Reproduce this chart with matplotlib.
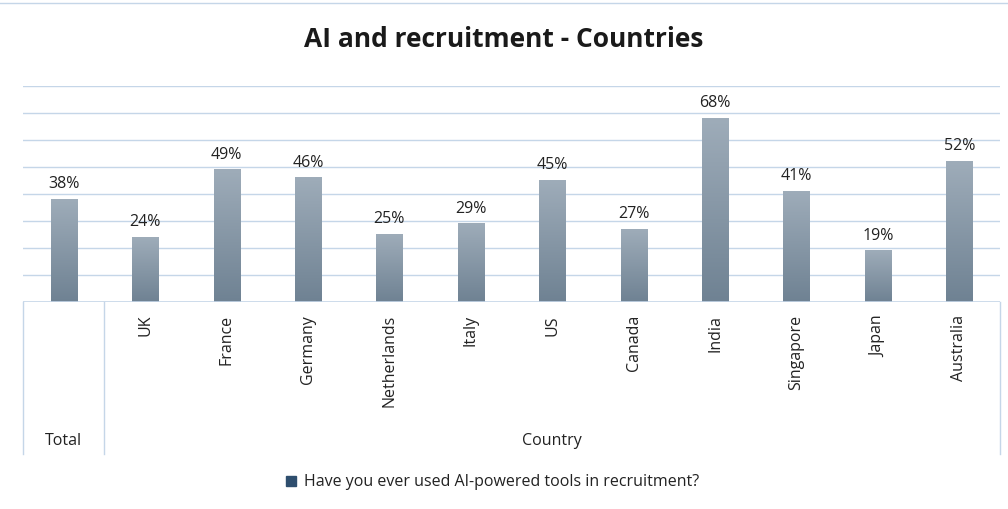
import numpy as np
import matplotlib.pyplot as plt
from matplotlib.lines import Line2D

plt.rcParams['font.family'] = ['Open Sans', 'DejaVu Sans']

categories = ["Total", "UK", "France", "Germany", "Netherlands", "Italy", "US",
              "Canada", "India", "Singapore", "Japan", "Australia"]
values = [38, 24, 49, 46, 25, 29, 45, 27, 68, 41, 19, 52]
series_name = "Have you ever used AI-powered tools in recruitment?"

W, H = 1008, 510
fig = plt.figure(figsize=(W / 100, H / 100), dpi=100)
x0, x1, ytop, ybot = 23, 1000, 87, 303
ax = fig.add_axes([x0 / W, 1 - ybot / H, (x1 - x0) / W, (ybot - ytop) / H])

n = len(categories)
ax.set_xlim(-0.5, n - 0.5)
ax.set_ylim(0, 80)
for y in range(10, 81, 10):
    ax.axhline(y, color='#c5d6e8', lw=1, zorder=0)

grad = np.linspace(0, 1, 100).reshape(-1, 1)
from matplotlib.colors import LinearSegmentedColormap
cmap = LinearSegmentedColormap.from_list('g', ['#6f8293', '#9eacb9'])
bw = 0.32
for i, v in enumerate(values):
    ax.imshow(grad, cmap=cmap, origin='lower', aspect='auto',
              extent=[i - bw / 2, i + bw / 2, 0, v], zorder=2)
    ax.text(i, v + 3, f"{v}%", ha='center', va='bottom', fontsize=11.5, color='#222222')
ax.set_xlim(-0.5, n - 0.5)
ax.set_ylim(0, 80)
for s in ax.spines.values():
    s.set_visible(False)
ax.axhline(0, color='#c5d6e8', lw=1.2, zorder=3)
ax.set_xticks([])
ax.set_yticks([])

# category table below the axis
lc = '#c5d6e8'
def fx(px):
    return px / W
def fy(py):
    return 1 - py / H
cw = (x1 - x0) / n
for px in [x0, x0 + cw, x1]:
    fig.add_artist(Line2D([fx(px), fx(px)], [fy(303), fy(455)], color=lc, lw=1))
for i, c in enumerate(categories[1:], start=1):
    fig.text(fx(x0 + cw * (i + 0.5)), fy(315), c, rotation=90, ha='center', va='top',
             fontsize=11.5, color='#222222')
fig.text(fx(x0 + cw / 2), fy(441), categories[0], ha='center', va='center', fontsize=11.5, color='#222222')
fig.text(fx((x0 + cw + x1) / 2), fy(441), "Country", ha='center', va='center', fontsize=11.5, color='#222222')

# top border line
fig.add_artist(Line2D([fx(0), fx(1008)], [fy(4), fy(4)], color=lc, lw=1))

fig.text(0.5, fy(40), "AI and recruitment - Countries", ha='center', va='center',
         fontsize=19, fontweight='bold', color='#1a1a1a')

# legend
fig.add_artist(plt.Rectangle((fx(286), fy(487)), 10 / W, 10 / H, color='#2e4e6e',
                             transform=fig.transFigure))
fig.text(fx(304), fy(482), series_name, ha='left', va='center', fontsize=11.5, color='#222222')

fig.savefig('out.png', dpi=100, facecolor='white')
